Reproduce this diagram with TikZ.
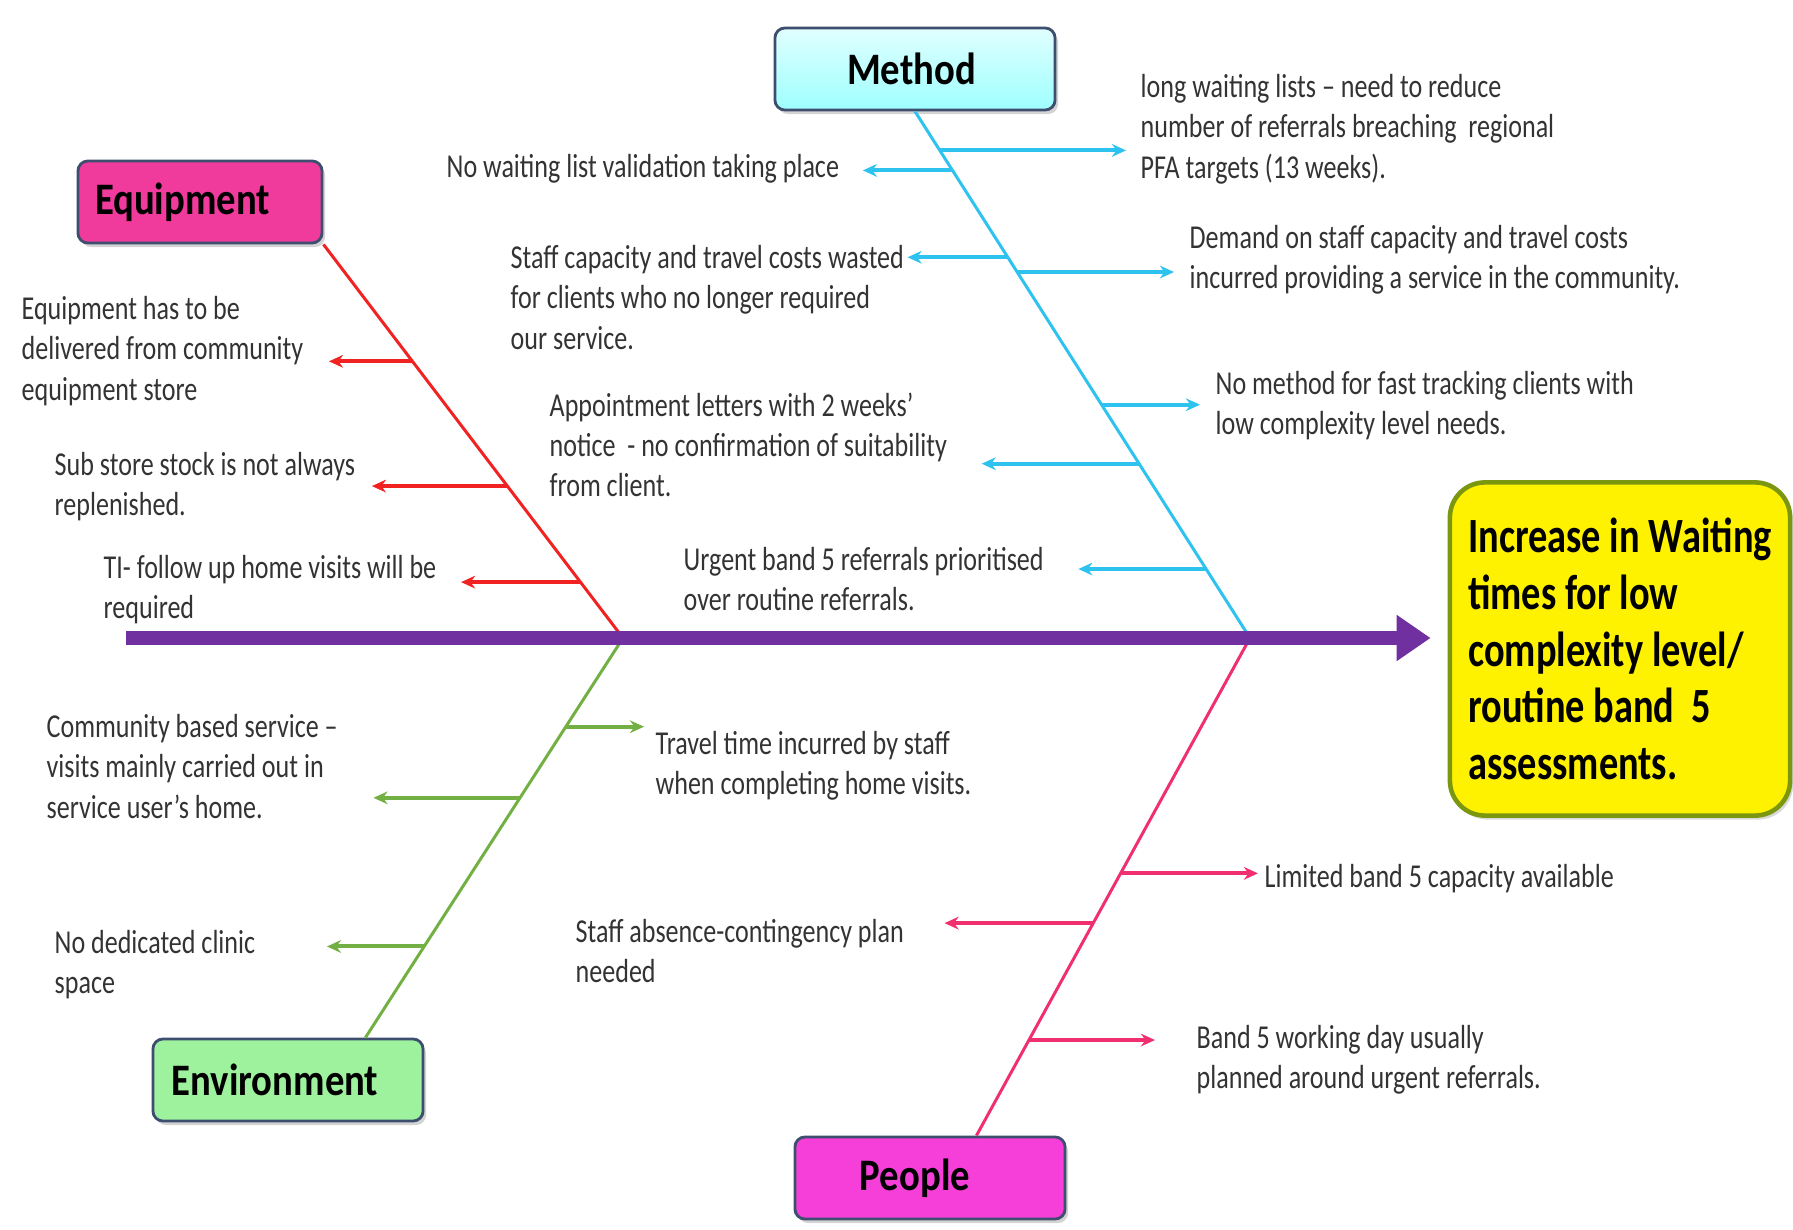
\documentclass[tikz,border=0pt]{standalone}
\usepackage{fontspec}
\setmainfont{Carlito}
\newfontfamily\slimfont[FakeStretch=0.78]{Carlito}
\newfontfamily\boxfont[FakeStretch=0.86]{Carlito}
\usetikzlibrary{arrows.meta,calc,shadows}
\definecolor{spinecol}{HTML}{7030A0}
\definecolor{eqcol}{HTML}{F02222}
\definecolor{mecol}{HTML}{2EC2EE}
\definecolor{encol}{HTML}{72B043}
\definecolor{pecol}{HTML}{F0306E}
\definecolor{boxline}{HTML}{3E4E6E}
\definecolor{txtcol}{HTML}{333333}

\begin{document}
\begin{tikzpicture}[x=0.01cm,y=-0.01cm,
    catbox/.style={draw=boxline,line width=0.8pt,rounded corners=0.1cm,
      minimum width=#1,minimum height=0.82cm,inner sep=0pt,
      font=\boxfont\fontsize{12.8}{15}\selectfont\bfseries,
      drop shadow={shadow xshift=0.03cm,shadow yshift=-0.04cm,opacity=0.35}},
    cause/.style={font=\slimfont\fontsize{9.5}{11.4}\selectfont,text=txtcol,
      align=left,inner sep=0pt,anchor=north west},
    bone/.style={line width=0.85pt},
    rib/.style={line width=1.15pt,-{Stealth[length=4pt,width=3.6pt]}}]
        \useasboundingbox (0,0) rectangle (1793,1230);
        % the effect
        \node[draw=olive!70!green,line width=1.3pt,fill=yellow,rounded corners=0.35cm,
          minimum width=3.4cm,minimum height=3.33cm,align=left,
          drop shadow={shadow xshift=0.03cm,shadow yshift=-0.04cm,opacity=0.3},
          font=\slimfont\fontsize{14}{16.1}\selectfont\bfseries]
          (result) at (1620,649) {Increase in Waiting\\times for low\\complexity level/\\routine band\ \ 5\\assessments.};
        % the four categories
        \node[catbox=2.8cm,top color=cyan!12,bottom color=cyan!38] (method) at (915,69) {\raisebox{-0.03cm}{Method}\hspace*{0.07cm}};
        \node[catbox=2.44cm,fill={rgb,255:red,240;green,58;blue,156}] (equip) at (200,202) {\raisebox{-0.03cm}{Equipment}\hspace*{0.35cm}};
        \node[catbox=2.7cm,fill={rgb,255:red,158;green,242;blue,158}] (env) at (288,1080) {\raisebox{-0.03cm}{Environment}\hspace*{0.26cm}};
        \node[catbox=2.7cm,fill={rgb,255:red,245;green,63;blue,216}] (people) at (930,1178) {\raisebox{-0.03cm}{People}\hspace*{0.3cm}};
        \coordinate (tail) at (126,638);
        \coordinate (eqjoin) at (623,638);
        \coordinate (mejoin) at (1250,638);
        % bones
        \draw[bone,eqcol] (equip.south east) -- (eqjoin);
        \draw[bone,mecol] (method.south) -- (mejoin);
        \draw[bone,encol] (eqjoin) -- ([xshift=-0.59cm]env.north east);
        \draw[bone,pecol] (mejoin) -- ([xshift=-0.9cm]people.north east);
        \draw[spinecol,line width=3.7pt,shorten >=0.17cm,-{Triangle[length=0.34cm,width=0.44cm]}] (tail) -- (tail -| result.west);
        % causes
        \node[cause] (eq1) at (21,296) {Equipment has to be\\delivered from community\\equipment store};
        \node[cause] (eq2) at (54,452) {Sub store stock is not always\\replenished.};
        \node[cause] (eq3) at (103,555) {TI- follow up home visits will be\\required};
        \node[cause] (me1) at (446,154) {No waiting list validation taking place};
        \node[cause] (me2) at (1140,74) {long waiting lists – need to reduce\\number of referrals breaching\ \ regional\\PFA targets (13 weeks).};
        \node[cause] (me3) at (510,245) {Staff capacity and travel costs wasted\\for clients who no longer required\\our service.};
        \node[cause] (me4) at (1189,225) {Demand on staff capacity and travel costs\\incurred providing a service in the community.};
        \node[cause] (me5) at (1215,371) {No method for fast tracking clients with\\low complexity level needs.};
        \node[cause] (me6) at (549,392) {Appointment letters with 2 weeks’\\notice\ \ - no confirmation of suitability\\from client.};
        \node[cause] (me7) at (683,547) {Urgent band 5 referrals prioritised\\over routine referrals.};
        \node[cause] (en1) at (655,731) {Travel time incurred by staff\\when completing home visits.};
        \node[cause] (en2) at (46,714) {Community based service –\\visits mainly carried out in\\service user’s home.};
        \node[cause] (en3) at (54,930) {No dedicated clinic\\space};
        \node[cause] (pe1) at (1264,864) {Limited band 5 capacity available};
        \node[cause] (pe2) at (575,919) {Staff absence-contingency plan\\needed};
        \node[cause] (pe3) at (1196,1025) {Band 5 working day usually\\planned around urgent referrals.};
        % ribs
        \coordinate (q1) at ($(equip.south east)!.297!(eqjoin)$);
        \coordinate (q2) at ($(equip.south east)!.614!(eqjoin)$);
        \coordinate (q3) at ($(equip.south east)!.858!(eqjoin)$);
        \draw[rib,eqcol,shorten >=0.25cm] (q1) -- (q1 -| eq1.east);
        \draw[rib,eqcol,shorten >=0.16cm] (q2) -- (q2 -| eq2.east);
        \draw[rib,eqcol,shorten >=0.24cm] (q3) -- (q3 -| eq3.east);
        \coordinate (w1) at ($(method.south)!.112!(mejoin)$);
        \coordinate (w2) at ($(method.south)!.074!(mejoin)$);
        \coordinate (w3) at ($(method.south)!.277!(mejoin)$);
        \coordinate (w4) at ($(method.south)!.305!(mejoin)$);
        \coordinate (w5) at ($(method.south)!.557!(mejoin)$);
        \coordinate (w6) at ($(method.south)!.669!(mejoin)$);
        \coordinate (w7) at ($(method.south)!.869!(mejoin)$);
        \draw[rib,mecol,shorten >=0.23cm] (w1) -- (w1 -| me1.east);
        \draw[rib,mecol,shorten >=0.14cm] (w2) -- (w2 -| me2.west);
        \draw[rib,mecol,shorten >=0.03cm] (w3) -- (w3 -| me3.east);
        \draw[rib,mecol,shorten >=0.15cm] (w4) -- (w4 -| me4.west);
        \draw[rib,mecol,shorten >=0.15cm] (w5) -- (w5 -| me5.west);
        \draw[rib,mecol,shorten >=0.34cm] (w6) -- (w6 -| me6.east);
        \draw[rib,mecol,shorten >=0.34cm] (w7) -- (w7 -| me7.east);
        \coordinate (v1) at ($(eqjoin)!.222!([xshift=-0.59cm]env.north east)$);
        \coordinate (v2) at ($(eqjoin)!.40!([xshift=-0.59cm]env.north east)$);
        \coordinate (v3) at ($(eqjoin)!.772!([xshift=-0.59cm]env.north east)$);
        \draw[rib,encol,shorten >=0.11cm] (v1) -- (v1 -| en1.west);
        \draw[rib,encol,shorten >=0.35cm] (v2) -- (v2 -| en2.east);
        \draw[rib,encol,shorten >=0.71cm] (v3) -- (v3 -| en3.east);
        \coordinate (u1) at ($(mejoin)!.473!([xshift=-0.9cm]people.north east)$);
        \coordinate (u2) at ($(mejoin)!.573!([xshift=-0.9cm]people.north east)$);
        \coordinate (u3) at ($(mejoin)!.808!([xshift=-0.9cm]people.north east)$);
        \draw[rib,pecol,shorten >=0.06cm] (u1) -- (u1 -| pe1.west);
        \draw[rib,pecol,shorten >=0.40cm] (u2) -- (u2 -| pe2.east);
        \draw[rib,pecol,shorten >=0.41cm] (u3) -- (u3 -| pe3.west);
\end{tikzpicture}
\end{document}
